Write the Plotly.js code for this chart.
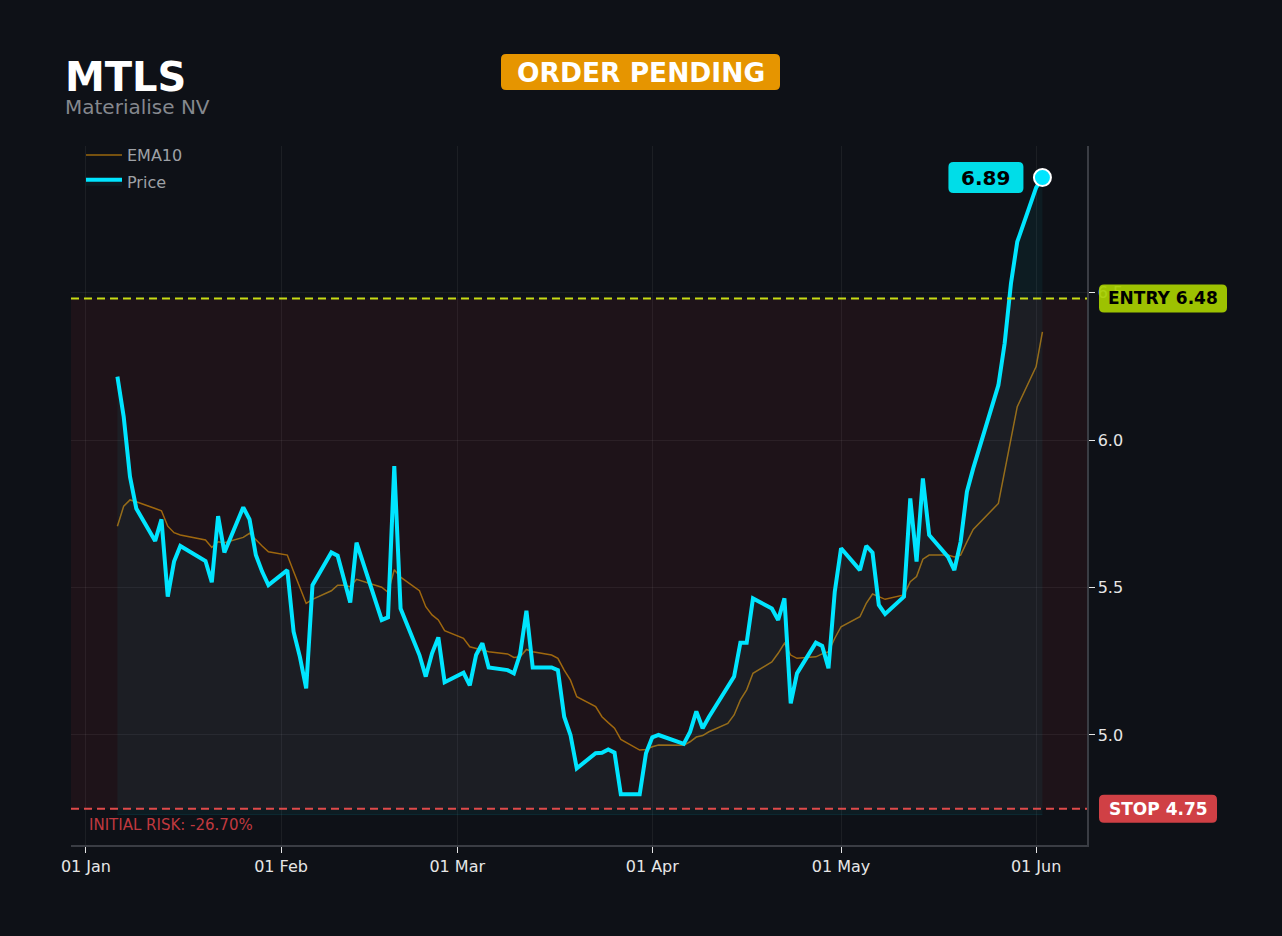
<!DOCTYPE html>
<html>
<head>
<meta charset="utf-8">
<script src="https://cdn.plot.ly/plotly-3.0.1.min.js"></script>
<style>
  html, body { margin: 0; padding: 0; background: #0e1117; }
  #chart { width: 1282px; height: 936px; }
</style>
</head>
<body>
<div id="chart"></div>
<script>
// ---------------- DATA ----------------
const ticker = "MTLS";
const companyName = "Materialise NV";
const statusText = "ORDER PENDING";
const entryPrice = 6.48;
const stopPrice = 4.75;
const initialRiskText = "INITIAL RISK: -26.70%";
const fillBase = 4.73;

const dates = [
  "2026-01-06","2026-01-07","2026-01-08","2026-01-09",
  "2026-01-12","2026-01-13","2026-01-14","2026-01-15","2026-01-16",
  "2026-01-20","2026-01-21","2026-01-22","2026-01-23",
  "2026-01-26","2026-01-27","2026-01-28","2026-01-29","2026-01-30",
  "2026-02-02","2026-02-03","2026-02-04","2026-02-05","2026-02-06",
  "2026-02-09","2026-02-10","2026-02-11","2026-02-12","2026-02-13",
  "2026-02-17","2026-02-18","2026-02-19","2026-02-20",
  "2026-02-23","2026-02-24","2026-02-25","2026-02-26","2026-02-27",
  "2026-03-02","2026-03-03","2026-03-04","2026-03-05","2026-03-06",
  "2026-03-09","2026-03-10","2026-03-11","2026-03-12","2026-03-13",
  "2026-03-16","2026-03-17","2026-03-18","2026-03-19","2026-03-20",
  "2026-03-23","2026-03-24","2026-03-25","2026-03-26","2026-03-27",
  "2026-03-30","2026-03-31","2026-04-01","2026-04-02",
  "2026-04-06","2026-04-07","2026-04-08","2026-04-09","2026-04-10",
  "2026-04-13","2026-04-14","2026-04-15","2026-04-16","2026-04-17",
  "2026-04-20","2026-04-21","2026-04-22","2026-04-23","2026-04-24",
  "2026-04-27","2026-04-28","2026-04-29","2026-04-30","2026-05-01",
  "2026-05-04","2026-05-05","2026-05-06","2026-05-07","2026-05-08",
  "2026-05-11","2026-05-12","2026-05-13","2026-05-14","2026-05-15",
  "2026-05-18","2026-05-19","2026-05-20","2026-05-21","2026-05-22",
  "2026-05-26","2026-05-27","2026-05-28","2026-05-29",
  "2026-06-01","2026-06-02"
];

const price = [
  6.215,6.079,5.876,5.768,
  5.658,5.731,5.469,5.588,5.641,
  5.590,5.518,5.742,5.619,
  5.772,5.731,5.610,5.554,5.508,
  5.559,5.350,5.265,5.158,5.508,
  5.619,5.608,5.524,5.449,5.652,
  5.390,5.399,5.912,5.429,
  5.271,5.198,5.277,5.331,5.179,
  5.211,5.168,5.271,5.311,5.229,
  5.220,5.209,5.275,5.421,5.229,
  5.229,5.220,5.062,5.000,4.887,
  4.938,4.940,4.951,4.940,4.799,
  4.799,4.938,4.992,5.000,
  4.970,5.010,5.080,5.023,5.061,
  5.166,5.198,5.313,5.313,5.463,
  5.429,5.390,5.463,5.107,5.209,
  5.313,5.302,5.226,5.486,5.633,
  5.559,5.641,5.618,5.441,5.410,
  5.469,5.802,5.588,5.870,5.678,
  5.604,5.559,5.655,5.825,5.904,
  6.186,6.328,6.531,6.672,
  6.856,6.890
];

const ema10 = [
  5.708,5.776,5.797,5.791,
  5.768,5.760,5.708,5.686,5.678,
  5.661,5.636,5.655,5.652,
  5.670,5.684,5.661,5.641,5.621,
  5.610,5.554,5.503,5.446,5.460,
  5.489,5.508,5.508,5.503,5.528,
  5.501,5.484,5.560,5.535,
  5.489,5.435,5.407,5.390,5.354,
  5.328,5.299,5.294,5.288,5.282,
  5.275,5.263,5.265,5.290,5.282,
  5.271,5.260,5.220,5.186,5.130,
  5.096,5.062,5.042,5.023,4.985,
  4.949,4.951,4.960,4.966,
  4.965,4.977,4.993,4.998,5.011,
  5.039,5.068,5.119,5.153,5.209,
  5.248,5.277,5.311,5.271,5.260,
  5.265,5.275,5.282,5.328,5.367,
  5.401,5.446,5.478,5.469,5.460,
  5.475,5.520,5.537,5.596,5.610,
  5.610,5.604,5.610,5.655,5.697,
  5.785,5.893,6.011,6.113,
  6.249,6.367
];

// ---------------- STYLE ----------------
const FONT = "DejaVu Sans";
const BG = "#0e1117";
const CYAN = "#00e5ff";
const lastDate = dates[dates.length - 1];
const lastPrice = price[price.length - 1];

// plot area in pixels: left 71, right 1087, top 146, bottom 845
const px2x = px => (px - 71) / 1016;
const py2y = py => (845 - py) / 699;

// rounded rectangle path in pixel units relative to an anchor
function roundRect(x0, x1, y0, y1, r) {
  return `M${x0 + r},${y0} L${x1 - r},${y0} Q${x1},${y0} ${x1},${y0 + r} ` +
         `L${x1},${y1 - r} Q${x1},${y1} ${x1 - r},${y1} L${x0 + r},${y1} ` +
         `Q${x0},${y1} ${x0},${y1 - r} L${x0},${y0 + r} Q${x0},${y0} ${x0 + r},${y0} Z`;
}
function badge(xref, xa, yref, ya, x0, x1, y0, y1, color) {
  return {
    type: "path", layer: "above",
    xref: xref, yref: yref, xsizemode: "pixel", ysizemode: "pixel",
    xanchor: xa, yanchor: ya,
    path: roundRect(x0, x1, y0, y1, 5),
    fillcolor: color, line: { width: 0 }
  };
}

const traces = [
  {
    x: dates, y: ema10, type: "scatter", mode: "lines", name: "EMA10",
    legendgroup: "ema",
    line: { color: "rgba(214,140,10,0.7)", width: 1.5 },
    hoverinfo: "skip"
  },
  {
    x: dates, y: dates.map(() => fillBase), type: "scatter", mode: "lines",
    showlegend: false, hoverinfo: "skip", legendgroup: "price",
    line: { color: "rgba(0,229,255,0.10)", width: 1 }
  },
  {
    x: dates, y: price, type: "scatter", mode: "lines", name: "Price",
    legendgroup: "price",
    fill: "tonexty", fillcolor: "rgba(0,229,255,0.05)",
    line: { color: CYAN, width: 4 }
  },
  {
    x: [lastDate], y: [lastPrice], type: "scatter", mode: "markers",
    showlegend: false, legendgroup: "price",
    marker: { color: CYAN, size: 17, line: { color: "#ffffff", width: 2 } }
  }
];

const layout = {
  width: 1282, height: 936,
  paper_bgcolor: BG, plot_bgcolor: BG,
  margin: { l: 71, r: 195, t: 146, b: 91 },
  font: { family: FONT, color: "#e6e6e6", size: 16 },
  showlegend: true,
  legend: {
    x: px2x(81), y: 1 + 8 / 699, xanchor: "left", yanchor: "top",
    traceorder: "grouped", itemwidth: 36,
    bgcolor: "rgba(0,0,0,0)", font: { family: FONT, size: 16, color: "#9ea1a6" },
    tracegroupgap: 3
  },
  xaxis: {
    type: "date",
    range: ["2025-12-29 15:00", "2026-06-09 02:00"],
    tick0: "2026-01-01", dtick: "M1", tickformat: "%d %b",
    showgrid: true, gridcolor: "rgba(255,255,255,0.06)", gridwidth: 1,
    showline: true, linecolor: "#3a3d44", linewidth: 1.5,
    ticks: "outside", ticklen: 6, tickcolor: "#e6e6e6",
    tickfont: { family: FONT, size: 16, color: "#e6e6e6" },
    zeroline: false
  },
  yaxis: {
    side: "right",
    range: [4.627, 6.997],
    tick0: 5.0, dtick: 0.5, tickformat: ".1f",
    showgrid: true, gridcolor: "rgba(255,255,255,0.06)", gridwidth: 1,
    showline: true, linecolor: "#3a3d44", linewidth: 1.5,
    ticks: "outside", ticklen: 6, tickcolor: "#e6e6e6",
    tickfont: { family: FONT, size: 16, color: "#e6e6e6" },
    zeroline: false
  },
  shapes: [
    {
      type: "rect", xref: "paper", yref: "y", x0: 0, x1: 1,
      y0: stopPrice, y1: entryPrice, layer: "below",
      fillcolor: "rgba(200,40,55,0.09)", line: { width: 0 }
    },
    {
      type: "line", xref: "paper", yref: "y", x0: 0, x1: 1,
      y0: entryPrice, y1: entryPrice,
      line: { color: "#c8dc14", width: 2, dash: "8px,5px" }
    },
    {
      type: "line", xref: "paper", yref: "y", x0: 0, x1: 1,
      y0: stopPrice, y1: stopPrice,
      line: { color: "#e04a4a", width: 2, dash: "8px,5px" }
    },
    badge("paper", px2x(640.5), "paper", py2y(72), -139.5, 139.5, -18, 18, "#e69500"),
    badge("paper", 1, "y", entryPrice, 12, 140, -14, 14, "rgba(168,208,0,0.93)"),
    badge("paper", 1, "y", stopPrice, 12, 130, -14, 14, "#d04045"),
    badge("x", lastDate, "y", lastPrice, -94, -19, -15.5, 15.5, "#00dde8")
  ],
  annotations: [
    {
      text: "<b>" + ticker + "</b>", xref: "paper", yref: "paper",
      x: px2x(63), y: py2y(77), xanchor: "left", yanchor: "middle",
      showarrow: false, font: { family: FONT, size: 40, color: "#ffffff" }
    },
    {
      text: companyName, xref: "paper", yref: "paper",
      x: px2x(63), y: py2y(107), xanchor: "left", yanchor: "middle",
      showarrow: false, font: { family: FONT, size: 20, color: "#85888e" }
    },
    {
      text: "<b>" + statusText + "</b>", xref: "paper", yref: "paper",
      x: px2x(640.5), y: py2y(72), xanchor: "center", yanchor: "middle",
      showarrow: false,
      font: { family: FONT, size: 26.5, color: "#ffffff" }
    },
    {
      text: "<b>ENTRY " + entryPrice.toFixed(2) + "</b>", xref: "paper", yref: "y",
      x: 1, y: entryPrice, xshift: 76, xanchor: "center", yanchor: "middle",
      showarrow: false,
      font: { family: FONT, size: 17, color: "#000000" }
    },
    {
      text: "<b>STOP " + stopPrice.toFixed(2) + "</b>", xref: "paper", yref: "y",
      x: 1, y: stopPrice, xshift: 71, xanchor: "center", yanchor: "middle",
      showarrow: false,
      font: { family: FONT, size: 17, color: "#ffffff" }
    },
    {
      text: "<b>" + lastPrice.toFixed(2) + "</b>", xref: "x", yref: "y",
      x: lastDate, y: lastPrice, xshift: -56.5, xanchor: "center", yanchor: "middle",
      showarrow: false,
      font: { family: FONT, size: 20, color: "#000000" }
    },
    {
      text: initialRiskText, xref: "paper", yref: "y",
      x: px2x(87), y: stopPrice, yshift: -16, xanchor: "left", yanchor: "middle",
      showarrow: false,
      font: { family: FONT, size: 15, color: "#c0393f" }
    }
  ],
  hovermode: false
};

Plotly.newPlot("chart", traces, layout, { displayModeBar: false, staticPlot: true });
</script>
</body>
</html>
